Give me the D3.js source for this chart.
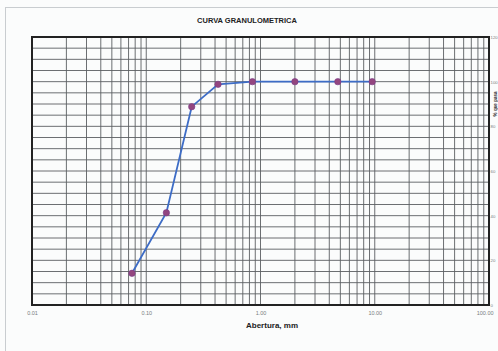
<!DOCTYPE html>
<html>
<head>
<meta charset="utf-8">
<script src="https://cdn.jsdelivr.net/npm/d3@7"></script>
<style>
  html, body { margin: 0; padding: 0; background: #fbfcfc; }
  svg { display: block; }
</style>
</head>
<body>
<svg id="chart" width="498" height="351"></svg>
<script>
// Sieve openings (mm) and percent passing
const aberturas = [0.075, 0.15, 0.25, 0.425, 0.85, 2.0, 4.75, 9.5];
const pasa = [14.2, 41.3, 88.8, 98.8, 100, 100, 100, 100];
const xTickValues = [0.01, 0.1, 1, 10, 100];
const xTickLabels = ["0.01", "0.10", "1.00", "10.00", "100.00"];
const yTickValues = [0, 20, 40, 60, 80, 100, 120];
const titulo = "CURVA GRANULOMETRICA";
const ejeX = "Abertura, mm";
const ejeY = "% que pasa";

const svg = d3.select("#chart");
const W = 498, H = 351;
const m = { left: 32, right: 9, top: 37, bottom: 46 };
const iw = W - m.left - m.right, ih = H - m.top - m.bottom;
const font = "Liberation Sans, Arial, sans-serif";

// outer sheet frame
svg.append("rect").attr("x", 5.5).attr("y", 7.5).attr("width", 500).attr("height", 360)
  .attr("fill", "none").attr("stroke", "#c9cdd0").attr("stroke-width", 1);

const x = d3.scaleLog().domain([0.01, 100]).range([m.left, m.left + iw]);
const y = d3.scaleLinear().domain([0, 120]).range([m.top + ih, m.top]);

const g = svg.append("g");

// log grid: every integer multiple within each decade
const vGrid = [];
for (let e = -2; e < 2; e++) for (let k = 1; k <= 9; k++) vGrid.push(k * Math.pow(10, e));
g.append("g").selectAll("line").data(vGrid).join("line")
  .attr("x1", d => x(d)).attr("x2", d => x(d))
  .attr("y1", m.top).attr("y2", m.top + ih)
  .attr("stroke", "#5b5f62").attr("stroke-width", 0.9);

// horizontal grid every 5 %
g.append("g").selectAll("line").data(d3.range(0, 121, 5)).join("line")
  .attr("x1", m.left).attr("x2", m.left + iw)
  .attr("y1", d => y(d)).attr("y2", d => y(d))
  .attr("stroke", "#5b5f62").attr("stroke-width", 0.9);

// plot border
g.append("rect").attr("x", m.left).attr("y", m.top).attr("width", iw).attr("height", ih)
  .attr("fill", "none").attr("stroke", "#222").attr("stroke-width", 2);

// x axis labels
const xAxis = d3.axisBottom(x).tickValues(xTickValues)
  .tickFormat((d, i) => xTickLabels[i]).tickSize(0).tickPadding(6);
const xa = svg.append("g").attr("transform", `translate(0,${m.top + ih})`).call(xAxis);
xa.select(".domain").remove();
xa.selectAll("text").attr("font-family", font)
  .attr("font-size", 5.5).attr("fill", "#7a7d80");
xa.selectAll(".tick:last-of-type text").attr("text-anchor", "end").attr("dx", "4");

// right y axis labels (narrow strip beside the plot)
const yAxis = d3.axisRight(y).tickValues(yTickValues).tickSize(0).tickPadding(1.5);
const ya = svg.append("g").attr("transform", `translate(${m.left + iw},0)`).call(yAxis);
ya.select(".domain").remove();
ya.selectAll("text").attr("font-family", font)
  .attr("font-size", 4.3).attr("fill", "#7a7d80");

// titles
svg.append("text").attr("x", 247).attr("y", 23).attr("text-anchor", "middle")
  .attr("font-family", font).attr("font-weight", "bold")
  .attr("font-size", 7.5).attr("fill", "#222").text(titulo);
svg.append("text").attr("x", 272).attr("y", 328).attr("text-anchor", "middle")
  .attr("font-family", font).attr("font-weight", "bold")
  .attr("font-size", 8).attr("fill", "#222").text(ejeX);
svg.append("text").attr("transform", "translate(497,104) rotate(-90)").attr("text-anchor", "middle")
  .attr("font-family", font).attr("font-weight", "bold")
  .attr("font-size", 4.5).attr("fill", "#333").text(ejeY);

// curve
const data = aberturas.map((a, i) => ({ a, p: pasa[i] }));
svg.append("path").datum(data)
  .attr("d", d3.line().x(d => x(d.a)).y(d => y(d.p)))
  .attr("fill", "none").attr("stroke", "#3d6cc6").attr("stroke-width", 1.8);
svg.append("g").selectAll("circle").data(data).join("circle")
  .attr("cx", d => x(d.a)).attr("cy", d => y(d.p)).attr("r", 3.2)
  .attr("fill", "#93467f").attr("stroke", "#7a3b8a").attr("stroke-width", 0.6);
</script>
</body>
</html>
